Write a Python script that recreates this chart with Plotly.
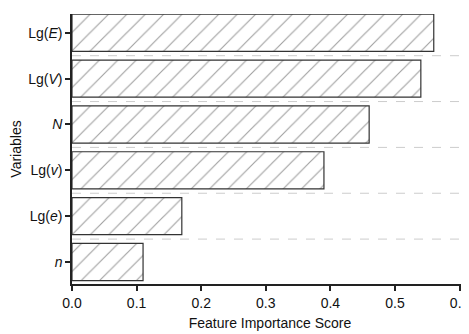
import plotly.graph_objects as go

variables = ["<i>n</i>", "Lg(<i>e</i>)", "Lg(<i>v</i>)", "<i>N</i>", "Lg(<i>V</i>)", "Lg(<i>E</i>)"]
scores = [0.11, 0.17, 0.39, 0.46, 0.54, 0.56]
x_ticks = [0.0, 0.1, 0.2, 0.3, 0.4, 0.5, 0.6]
x_tick_labels = ["0.0", "0.1", "0.2", "0.3", "0.4", "0.5", "0.6"]

fig = go.Figure()
fig.add_trace(go.Bar(
    x=scores,
    y=list(range(len(variables))),
    orientation="h",
    width=0.81,
    marker=dict(
        color="white",
        line=dict(color="#333333", width=1.2),
        pattern=dict(shape="/", fgcolor="#444444", bgcolor="white", size=13, solidity=0.09),
    ),
))

shapes = []
for i in range(len(variables) - 1):
    shapes.append(dict(type="line", xref="paper", yref="y", x0=0, x1=1, y0=i + 0.5, y1=i + 0.5,
                       line=dict(color="#cccccc", width=1, dash="dash"), layer="below"))

fig.update_layout(
    width=461, height=326,
    margin=dict(l=64, r=1, t=6, b=50),
    paper_bgcolor="white", plot_bgcolor="white",
    font=dict(family="Liberation Sans, Arial, sans-serif", size=14, color="#111111"),
    showlegend=False,
    shapes=shapes,
)
fig.update_xaxes(
    range=[0, 0.613], tickvals=x_ticks, ticktext=x_tick_labels,
    showgrid=False, zeroline=False, automargin=False,
    showline=True, linecolor="#222222", linewidth=1.5,
    ticks="outside", ticklen=5, tickwidth=1.5, tickcolor="#222222",
    tickfont=dict(size=14), ticklabeloverflow="allow",
    title=dict(text="Feature Importance Score", font=dict(size=14), standoff=9),
)
fig.update_yaxes(
    range=[-0.48, 5.41], tickvals=list(range(len(variables))), ticktext=variables,
    showgrid=False, zeroline=False, automargin=False,
    showline=True, linecolor="#222222", linewidth=1.5,
    ticks="outside", ticklen=5, tickwidth=1.5, tickcolor="#222222",
    tickfont=dict(size=14),
    title=dict(text="Variables", font=dict(size=14), standoff=4),
)

fig.write_html("out.html")
